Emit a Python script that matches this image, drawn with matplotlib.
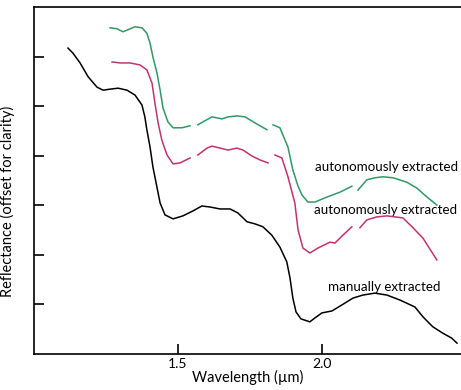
import matplotlib
matplotlib.use('Agg')
import matplotlib.pyplot as plt

# wavelength (um) / offset reflectance
man_wl = [1.118, 1.135, 1.160, 1.188, 1.219, 1.240, 1.264, 1.292, 1.323, 1.351, 1.375, 1.385,
          1.392, 1.403, 1.413, 1.427, 1.438, 1.455, 1.483, 1.517, 1.552, 1.583, 1.611, 1.646,
          1.681, 1.708, 1.740, 1.767, 1.795, 1.826, 1.854, 1.878, 1.889, 1.899, 1.910, 1.927,
          1.958, 1.976, 2.000, 2.035, 2.069, 2.108, 2.142, 2.184, 2.226, 2.271, 2.323, 2.351,
          2.385, 2.420, 2.451, 2.469]
man_refl = [6.18, 6.08, 5.88, 5.60, 5.39, 5.33, 5.35, 5.37, 5.33, 5.23, 5.03, 4.79,
            4.53, 4.18, 3.78, 3.37, 3.05, 2.81, 2.73, 2.79, 2.89, 2.99, 2.97, 2.93,
            2.93, 2.85, 2.67, 2.63, 2.57, 2.40, 2.16, 1.86, 1.54, 1.13, 0.85, 0.71,
            0.65, 0.73, 0.83, 0.87, 0.99, 1.13, 1.19, 1.23, 1.19, 1.09, 0.95, 0.75,
            0.55, 0.42, 0.32, 0.22]

# autonomous spectra come in pieces (gaps at the water bands)
auto1_wl = [
    [1.264, 1.288, 1.309, 1.326, 1.351, 1.375, 1.392, 1.403, 1.413, 1.427, 1.438, 1.448,
     1.465, 1.483, 1.514, 1.542],
    [1.569, 1.587, 1.618, 1.653, 1.674, 1.705, 1.733, 1.767, 1.809],
    [1.830, 1.854, 1.882, 1.899, 1.917, 1.931, 1.951, 1.976, 2.017, 2.063, 2.104],
    [2.125, 2.156, 2.184, 2.212, 2.247, 2.295, 2.330, 2.365, 2.399],
]
auto1_refl = [
    [6.59, 6.57, 6.51, 6.55, 6.61, 6.59, 6.48, 6.28, 6.00, 5.68, 5.33, 4.97,
     4.69, 4.57, 4.57, 4.61],
    [4.63, 4.69, 4.79, 4.75, 4.79, 4.81, 4.79, 4.67, 4.53],
    [4.63, 4.57, 4.18, 3.72, 3.39, 3.21, 3.07, 3.07, 3.17, 3.27, 3.39],
    [3.31, 3.52, 3.56, 3.58, 3.56, 3.47, 3.35, 3.17, 3.01],
]

auto2_wl = [
    [1.271, 1.299, 1.333, 1.368, 1.392, 1.410, 1.420, 1.431, 1.444, 1.462, 1.483, 1.507,
     1.542],
    [1.569, 1.601, 1.618, 1.646, 1.674, 1.705, 1.726, 1.757, 1.785, 1.813],
    [1.837, 1.861, 1.882, 1.906, 1.917, 1.934, 1.958, 1.986, 2.028, 2.045, 2.069, 2.104],
    [2.132, 2.156, 2.191, 2.226, 2.281, 2.313, 2.351, 2.399],
]
auto2_refl = [
    [5.90, 5.88, 5.88, 5.84, 5.74, 5.47, 5.07, 4.67, 4.32, 4.02, 3.84, 3.86,
     3.96],
    [4.02, 4.16, 4.20, 4.16, 4.12, 4.16, 4.12, 4.00, 3.92, 3.86],
    [4.02, 3.96, 3.58, 3.05, 2.51, 2.14, 2.04, 2.14, 2.26, 2.24, 2.38, 2.57],
    [2.55, 2.71, 2.77, 2.79, 2.75, 2.57, 2.34, 1.90],
]

labels = ['autonomously extracted', 'autonomously extracted', 'manually extracted']
xticks = [1.5, 2.0]
yticks = [1, 2, 3, 4, 5, 6]

green = '#2f9966'
magenta = '#c2336c'

plt.rcParams['font.family'] = ['Lato', 'DejaVu Sans']

fig = plt.figure(figsize=(4.61, 3.90), dpi=100)
ax = fig.add_axes([34 / 461, 36 / 390, 427 / 461, 347 / 390])

ax.plot(man_wl, man_refl, color='black', lw=1.1)
for xs, ys in zip(auto1_wl, auto1_refl):
    ax.plot(xs, ys, color=green, lw=1.1)
for xs, ys in zip(auto2_wl, auto2_refl):
    ax.plot(xs, ys, color=magenta, lw=1.1)

ax.text(1.976, 3.78, labels[0], fontsize=9.6, va='center', ha='left')
ax.text(1.972, 2.91, labels[1], fontsize=9.6, va='center', ha='left')
ax.text(2.021, 1.35, labels[2], fontsize=9.6, va='center', ha='left')

ax.set_xlim(1.0, 2.483)
ax.set_ylim(0, 7.01)
ax.set_xticks(xticks)
ax.set_xticklabels(['1.5', '2.0'])
ax.set_yticks(yticks)
ax.set_yticklabels([])
ax.tick_params(direction='in', length=7, width=1.2, labelsize=10, pad=3)
for side in ['left', 'bottom', 'top']:
    ax.spines[side].set_linewidth(1.2)
ax.spines['right'].set_visible(False)

ax.set_xlabel('Wavelength (\u00b5m)', fontsize=10.5, labelpad=0)
ax.set_ylabel('Reflectance (offset for clarity)', fontsize=10.5)
ax.yaxis.set_label_coords(-0.045, 0.44)

fig.savefig('out.png', dpi=100)
